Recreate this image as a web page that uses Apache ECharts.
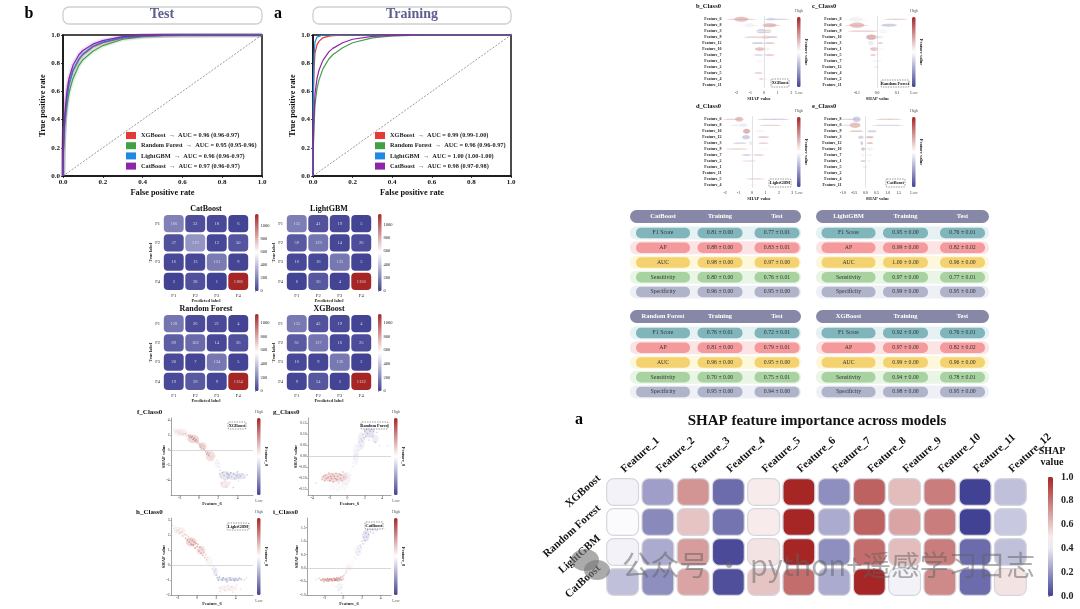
<!DOCTYPE html>
<html><head><meta charset="utf-8">
<script src="https://cdn.jsdelivr.net/npm/echarts@6/dist/echarts.min.js"></script>
<style>html,body{margin:0;padding:0;background:#fff}#c{width:1080px;height:609px}</style></head>
<body><div id="c"></div>
<script>
// ---------- ROC ----------
const rocFpr=[0,.002,.005,.01,.02,.03,.05,.08,.1,.15,.2,.3,.4,.5,.6,.8,1];
const rocModels=['XGBoost','Random Forest','LightGBM','CatBoost'];
const rocTestXGB=[0,.18,.3,.42,.56,.65,.745,.825,.86,.915,.945,.98,.992,.997,.999,1,1];
const rocTestRF=[0,.14,.26,.38,.5,.59,.69,.785,.825,.885,.925,.97,.988,.995,.998,1,1];
const rocTestLGB=[0,.17,.3,.42,.56,.65,.75,.83,.865,.92,.95,.982,.994,.998,1,1,1];
const rocTestCat=[0,.2,.32,.45,.6,.69,.785,.86,.89,.935,.96,.988,.996,.999,1,1,1];
const rocTrainXGB=[0,.5,.75,.87,.93,.955,.98,.992,.996,.999,1,1,1,1,1,1,1];
const rocTrainRF=[0,.2,.35,.5,.62,.68,.76,.83,.86,.91,.945,.98,.993,.998,1,1,1];
const rocTrainLGB=[0,.62,.85,.95,.985,.995,1,1,1,1,1,1,1,1,1,1,1];
const rocTrainCat=[0,.25,.42,.58,.69,.75,.82,.88,.905,.945,.97,.99,.996,.999,1,1,1];
const rocTestAuc=['0.96 (0.96-0.97)','0.95 (0.95-0.96)','0.96 (0.96-0.97)','0.97 (0.96-0.97)'];
const rocTrainAuc=['0.99 (0.99-1.00)','0.96 (0.96-0.97)','1.00 (1.00-1.00)','0.98 (0.97-0.98)'];
// ---------- confusion matrices ----------
const cmLabels=['F1','F2','F3','F4'];
const cmCat=[[166,32,18,6],[37,219,12,50],[16,13,151,9],[2,38,1,1186]];
const cmLgb=[[155,41,19,5],[59,129,14,26],[16,16,135,5],[6,56,4,1156]];
const cmRf=[[128,26,21,4],[69,102,14,36],[20,7,134,5],[19,59,9,1134]];
const cmXgb=[[135,42,19,4],[61,127,16,25],[16,9,136,2],[9,54,5,1132]];
// ---------- SHAP dependence: [Feature value, SHAP value, colour 0..1] ----------
const depF=[[-2.6,2.7,.6],[-2.5,2.95,.55],[-2.4,2.5,.6],[-2.3,3.4,.5],[-2.2,2.6,.6],[-2.1,2.3,.62],[-2,2.5,.58],[-1.9,2.2,.65],[-1.7,2.4,.6],[-1.6,2.1,.66],[-1.4,2.2,.7],[-1.3,1.9,.66],[-1.1,2,.75],[-1,1.8,.78],[-.9,2,.72],[-.8,1.7,.82],[-.7,1.85,.8],[-.6,1.45,.85],[-.5,1.6,.84],[-.4,1.25,.82],[-.3,1.4,.8],[-.2,1,.75],[-.1,1.2,.72],[0,.9,.7],[.1,.7,.74],[.15,.45,.76],[.25,.85,.7],[.3,.3,.68],[.4,.6,.7],[.5,.2,.72],[.55,.5,.68],[.7,-.2,.74],[.8,-.5,.78],[.9,-.3,.76],[1,-.7,.8],[1.1,-.45,.72],[1.2,-.9,.66],[1.3,-1.2,.6],[1.4,-.8,.62],[1.5,-1.5,.5],[1.6,-1.2,.5],[1.7,-1.7,.46],[1.8,-1.4,.45],[1.9,-2,.45],[2,-1.75,.42],[2.1,-2.3,.4],[2.15,-3.2,.3],[2.2,-2.7,.38],[2.3,-3.6,.6],[2.35,-4.4,.66],[2.45,-3,.25],[2.6,-3.4,.3],[2.7,-4,.62],[2.8,-4.9,.64],[2.9,-3.1,.2],[3,-3.7,.28],[3.1,-3.3,.25],[3.2,-4.3,.62],[3.3,-3,.22],[3.4,-3.6,.3],[3.55,-5,.66],[3.6,-3.2,.25],[3.7,-3.8,.3],[3.9,-3.4,.3],[4,-2.9,.28],[4.1,-4.1,.6],[4.3,-3.5,.3],[4.5,-3.2,.3],[4.7,-3.7,.35],[5,-3.3,.35]];
const depG=[[-3.6,-.12,.62],[-3.1,-.08,.55],[-2.9,-.105,.7],[-2.7,-.09,.72],[-2.6,-.11,.75],[-2.5,-.085,.72],[-2.4,-.1,.78],[-2.3,-.13,.5],[-2.2,-.095,.8],[-2.1,-.075,.74],[-2,-.11,.78],[-2,-.15,.46],[-1.9,-.09,.8],[-1.8,-.1,.82],[-1.7,-.08,.74],[-1.6,-.115,.76],[-1.6,-.14,.48],[-1.5,-.09,.8],[-1.4,-.1,.78],[-1.3,-.075,.72],[-1.2,-.105,.8],[-1.2,-.155,.45],[-1.1,-.09,.74],[-1,-.12,.62],[-.9,-.08,.74],[-.9,-.145,.48],[-.8,-.1,.76],[-.7,-.085,.72],[-.6,-.11,.7],[-.6,-.135,.46],[-.5,-.07,.68],[-.4,-.095,.7],[-.3,-.15,.45],[-.2,-.08,.66],[-.1,-.12,.48],[0,-.09,.6],[.1,-.075,.56],[.2,-.11,.45],[.3,-.06,.5],[.4,-.085,.45],[.5,-.06,.45],[.6,-.03,.45],[.7,-.045,.42],[.8,-.01,.42],[.9,.005,.4],[1,.025,.42],[1.1,.01,.38],[1.2,.045,.4],[1.3,.03,.36],[1.4,.065,.38],[1.5,.05,.34],[1.6,.08,.35],[1.7,.07,.32],[1.8,.1,.32],[1.9,.085,.3],[2,.115,.28],[2.1,.09,.3],[2.2,.125,.25],[2.3,.105,.3],[2.4,.13,.22],[2.5,.075,.35],[2.6,.115,.28],[2.8,.125,.25],[2.9,.09,.32],[3,.115,.3],[3.2,.065,.35],[3.4,.11,.34],[3.6,.13,.36],[3.7,.05,.4],[4.6,.05,.6]];
const depH=[[-2.5,2.65,.62],[-2.4,2.45,.6],[-2.2,2.55,.58],[-2.1,2.3,.62],[-1.9,2.35,.6],[-1.8,2.15,.66],[-1.6,2.2,.62],[-1.5,1.95,.7],[-1.3,2.05,.68],[-1.2,1.8,.74],[-1.1,2,.64],[-1,1.7,.78],[-.9,1.9,.66],[-.8,1.55,.8],[-.7,1.75,.72],[-.6,1.4,.82],[-.5,1.65,.78],[-.4,1.35,.84],[-.3,1.55,.8],[-.2,1.15,.82],[-.1,1.45,.78],[0,1.25,.8],[.1,1.4,.72],[.2,.95,.76],[.3,1.2,.76],[.4,.8,.74],[.5,1.05,.72],[.6,.65,.72],[.7,.85,.68],[.8,.5,.7],[.9,.7,.64],[1,.35,.66],[1.1,.5,.6],[1.2,.15,.55],[1.3,.35,.52],[1.4,-.05,.45],[1.5,.1,.45],[1.6,-.25,.38],[1.7,-.1,.4],[1.8,-.45,.35],[1.9,-.3,.36],[2,-.65,.28],[2.1,-.85,.25],[2.2,-1,.22],[2.3,-.8,.2],[2.35,-1.5,.6],[2.4,-1.75,.62],[2.6,-1,.22],[2.7,-.85,.2],[2.8,-1.45,.58],[2.9,-1.7,.62],[3,-.95,.22],[3.1,-1.1,.2],[3.2,-1.35,.58],[3.3,-1.6,.6],[3.4,-.85,.25],[3.5,-1,.2],[3.6,-1.45,.62],[3.7,-1.8,.6],[3.8,-.95,.25],[3.9,-1.05,.22],[4,-.9,.28],[4.1,-1.35,.6],[4.2,-1,.25],[4.4,-.85,.3],[4.6,-.95,.3],[4.9,-1,.35],[5.1,-.85,.4],[4.5,-1.6,.6]];
const depI=[[-2.9,-.42,.6],[-2.6,-.38,.66],[-2.4,-.45,.72],[-2.2,-.4,.76],[-2.1,-.5,.7],[-2,-.42,.8],[-1.8,-.46,.82],[-1.7,-.39,.82],[-1.6,-.48,.78],[-1.5,-.42,.85],[-1.4,-.53,.5],[-1.3,-.4,.85],[-1.2,-.46,.84],[-1.1,-.6,.46],[-1,-.38,.84],[-.9,-.45,.86],[-.9,-.7,.45],[-.8,-.42,.82],[-.7,-.36,.8],[-.7,-.62,.48],[-.6,-.47,.78],[-.5,-.38,.8],[-.5,-.82,.4],[-.4,-.42,.76],[-.4,-.58,.45],[-.3,-.34,.78],[-.3,-.72,.42],[-.2,-.44,.7],[-.2,-.92,.36],[-.1,-.32,.72],[-.1,-.6,.45],[0,-.4,.66],[.05,-.28,.68],[.1,-.5,.5],[.2,-.2,.62],[.3,-.1,.62],[.4,-.15,.58],[.5,0,.6],[.6,.08,.55],[.7,-.03,.55],[.8,.18,.52],[.9,.1,.5],[1,.3,.48],[1.1,.22,.46],[1.2,.42,.45],[1.3,.35,.44],[1.4,.58,.42],[1.5,.48,.42],[1.6,.72,.4],[1.7,.62,.38],[1.8,.85,.36],[1.9,.78,.34],[2,1,.32],[2.1,.9,.32],[2.2,1.15,.3],[2.3,1.02,.28],[2.4,1.3,.25],[2.5,1.15,.3],[2.6,1.42,.22],[2.7,1.25,.26],[2.8,1.55,.2],[2.9,1.35,.28],[3,1.62,.2],[3.1,1.45,.26],[3.2,1.3,.32],[3.4,1.55,.3],[3.6,1.4,.36],[3.8,1.6,.34],[4.1,1.5,.4],[4.4,1.45,.45]];
// density of the dependence clouds: [x, y, half width, half height, colour]
const cloudF=[[-1.9,2.4,.7,.5,.62],[-.6,1.5,.6,.55,.8],[.4,.5,.4,.55,.74],[1.2,-.8,.5,.7,.72],[1.9,-1.8,.3,.6,.45],[2.7,-3.4,.6,.6,.3],[3.6,-3.5,.8,.5,.32],[2.7,-4.6,.5,.5,.66],[4.3,-3.5,.6,.4,.32]];
const cloudG=[[-1.5,-.095,1.5,.02,.78],[-1,-.135,1.2,.02,.46],[-.2,-.1,.6,.03,.6],[1,.01,.35,.05,.42],[1.6,.07,.4,.04,.35],[2.5,.11,.6,.025,.26],[3.2,.08,.4,.02,.36]];
const cloudH=[[-1.8,2.3,.6,.25,.62],[-.6,1.55,.55,.3,.8],[.4,1,.45,.3,.74],[1.2,.3,.4,.3,.55],[1.9,-.45,.25,.3,.35],[3.4,-.95,1.3,.12,.22],[3.2,-1.55,1,.2,.6]];
const cloudI=[[-1.5,-.44,1,.06,.85],[-.5,-.42,.5,.07,.8],[-.4,-.7,.35,.14,.42],[.6,.02,.4,.15,.56],[1.6,.65,.4,.2,.4],[2.4,1.2,.4,.22,.28],[3.2,1.5,.6,.12,.3]];
// ---------- SHAP summary: [row, SHAP centre, half width, half height in rows, colour 0..1] ----------
const beeFeatB=['Feature_6','Feature_8','Feature_3','Feature_9','Feature_12','Feature_10','Feature_7','Feature_1','Feature_2','Feature_5','Feature_4','Feature_11'];
const beeFeatC=['Feature_8','Feature_6','Feature_9','Feature_10','Feature_3','Feature_1','Feature_5','Feature_7','Feature_12','Feature_4','Feature_2','Feature_11'];
const beeFeatD=['Feature_6','Feature_8','Feature_10','Feature_12','Feature_3','Feature_9','Feature_7','Feature_2','Feature_1','Feature_11','Feature_5','Feature_4'];
const beeFeatE=['Feature_8','Feature_6','Feature_9','Feature_3','Feature_12','Feature_10','Feature_7','Feature_1','Feature_5','Feature_2','Feature_4','Feature_11'];
const beeB=[[0,-1.65,1.1,.1,.72],[0,-1.66,.5,.42,.72],[0,.95,.95,.1,.28],[0,.5,.35,.25,.36],[1,-1,.7,.1,.45],[1,-1.05,.36,.4,.46],[1,.4,.5,.34,.74],[1,.75,.45,.1,.7],[2,-.2,.36,.36,.3],[2,.25,.3,.3,.68],[2,0,1,.08,.5],[3,-.6,.85,.1,.7],[3,.1,.3,.3,.62],[3,.6,.4,.14,.3],[4,-.45,.45,.16,.3],[4,.4,.4,.14,.7],[5,-.3,.36,.3,.72],[5,.2,.25,.22,.45],[6,-.4,.36,.12,.32],[6,.4,.4,.12,.72],[7,-.35,.36,.1,.45],[7,.1,.15,.26,.5],[8,-.1,.42,.16,.5],[9,-.4,.32,.12,.7],[9,.12,.12,.2,.5],[10,-.2,.18,.12,.68],[10,.1,.14,.12,.45],[11,-.05,.28,.14,.5]];
const beeC=[[0,-.105,.06,.08,.45],[0,-.105,.03,.42,.45],[0,.095,.06,.1,.7],[1,-.1,.06,.1,.72],[1,-.1,.035,.44,.72],[1,.06,.04,.25,.3],[2,-.07,.075,.1,.7],[2,.03,.02,.3,.45],[2,.05,.05,.08,.5],[3,-.028,.026,.44,.78],[3,.01,.02,.2,.42],[4,-.03,.014,.34,.42],[4,.017,.012,.14,.7],[5,-.015,.02,.3,.72],[5,.01,.025,.1,.45],[6,-.02,.016,.14,.7],[6,.005,.006,.2,.48],[7,0,.025,.16,.46],[8,-.003,.016,.22,.46],[9,0,.009,.14,.5],[10,0,.009,.14,.48],[11,0,.004,.14,.5]];
const beeD=[[0,-1.4,.75,.08,.72],[0,-.94,.3,.42,.72],[0,1.6,1.2,.1,.26],[1,-1,.6,.1,.4],[1,-.64,.3,.38,.44],[1,1.4,.85,.1,.7],[2,-.4,.26,.42,.78],[2,.6,.38,.18,.46],[3,-.44,.3,.36,.3],[3,.85,.44,.14,.7],[4,-.9,.5,.1,.3],[4,-.1,.12,.3,.42],[4,.85,.38,.12,.7],[5,-1.1,.85,.1,.7],[5,.85,.44,.12,.48],[6,-.4,.38,.14,.3],[6,.5,.44,.12,.68],[7,-.2,.52,.16,.58],[8,.25,.68,.14,.5],[9,0,.44,.2,.5],[10,.25,.68,.14,.62],[11,0,.44,.16,.52]];
const beeE=[[0,-.7,.45,.1,.3],[0,-.39,.18,.46,.3],[0,1.05,.6,.1,.72],[1,-.46,.24,.44,.72],[1,-.7,.45,.1,.66],[1,1,.7,.1,.3],[2,-.4,.3,.1,.76],[2,.3,.22,.18,.32],[3,-.2,.13,.26,.32],[3,.2,.18,.16,.74],[4,-.16,.06,.3,.3],[4,.2,.15,.14,.72],[5,-.1,.09,.26,.72],[5,.18,.18,.26,.45],[6,-.12,.08,.22,.45],[6,.2,.15,.12,.55],[7,-.1,.13,.14,.7],[7,.16,.08,.22,.45],[8,0,.13,.16,.55],[9,0,.08,.2,.5],[10,0,.05,.14,.5],[11,0,.03,.12,.5]];
// ---------- metric tables ----------
const metricNames=['F1 Score','AP','AUC','Sensitivity','Specificity'];
const tblCat=[['0.81 ± 0.00','0.77 ± 0.01'],['0.88 ± 0.00','0.83 ± 0.01'],['0.98 ± 0.00','0.97 ± 0.00'],['0.80 ± 0.00','0.76 ± 0.01'],['0.96 ± 0.00','0.95 ± 0.00']];
const tblRf=[['0.76 ± 0.01','0.72 ± 0.01'],['0.81 ± 0.00','0.79 ± 0.01'],['0.96 ± 0.00','0.95 ± 0.00'],['0.70 ± 0.00','0.75 ± 0.01'],['0.95 ± 0.00','0.94 ± 0.00']];
const tblLgb=[['0.95 ± 0.00','0.76 ± 0.01'],['0.99 ± 0.00','0.82 ± 0.02'],['1.00 ± 0.00','0.96 ± 0.00'],['0.97 ± 0.00','0.77 ± 0.01'],['0.99 ± 0.00','0.95 ± 0.00']];
const tblXgb=[['0.92 ± 0.00','0.76 ± 0.01'],['0.97 ± 0.00','0.82 ± 0.02'],['0.99 ± 0.00','0.96 ± 0.00'],['0.94 ± 0.00','0.78 ± 0.01'],['0.98 ± 0.00','0.95 ± 0.00']];
// ---------- SHAP heatmap ----------
const heatFeatures=['Feature_1','Feature_2','Feature_3','Feature_4','Feature_5','Feature_6','Feature_7','Feature_8','Feature_9','Feature_10','Feature_11','Feature_12'];
const heatModels=['XGBoost','Random Forest','LightGBM','CatBoost'];
const heatXgb=[.42,.22,.72,.1,.5,1,.18,.85,.62,.78,0,.3];
const heatRf=[.44,.17,.6,.12,.5,1,.25,.85,.68,.78,0,.32];
const heatLgb=[.42,.25,.7,.02,.52,1,.18,.82,.62,.78,.1,.3];
const heatCat=[.3,.18,.68,.03,.6,.82,.25,1,.42,.75,.1,.52];

// ---------- style ----------
const SERIF='"Liberation Serif","Times New Roman",serif';
const rocColors=['#e53935','#43a047','#1e88e5','#8e24aa'];
const LOW=[66,66,148],MID=[255,255,255],HIGH=[166,38,38];
function cmap(v,m){m=m==null?.5:m;v=Math.max(0,Math.min(1,v));
  const a=v<m?LOW:MID,b=v<m?MID:HIGH,t=v<m?v/m:(v-m)/(1-m);
  return 'rgb('+a.map((c,i)=>Math.round(c+(b[i]-c)*t)).join(',')+')';}
const grid=[],xAxis=[],yAxis=[],series=[],graphic=[],legend=[];
function addGrid(l,t,w,h,xa,ya){grid.push({left:l,top:t,width:w,height:h,show:false});
  const i=grid.length-1;xAxis.push(Object.assign({gridIndex:i},xa));yAxis.push(Object.assign({gridIndex:i},ya));return i;}
const hidden={type:'value',show:false,min:0,max:1};
function txt(text,x,y,size,opt){opt=opt||{};graphic.push({type:'text',x:x,y:y,rotation:opt.rot||0,silent:true,z:opt.z||50,style:{text:text,font:(opt.weight||'bold')+' '+size+'px '+SERIF,fill:opt.fill||'#111',align:opt.align||'center',verticalAlign:'middle'}});}
function colorbar(l,t,w,h,max,ticks,mid,fs){
  const big=fs>6;
  const i=addGrid(l,t,w,h,hidden,{type:'value',position:'right',min:0,max:max,axisLine:{show:false},splitLine:{show:false},
    axisTick:{show:!!ticks,length:big?2:1,lineStyle:{color:'#555',width:.5},customValues:ticks||[]},
    axisLabel:{show:!!ticks,margin:big?8:2,fontFamily:SERIF,fontWeight:big?'bold':'normal',fontSize:fs||4.5,color:'#222',customValues:ticks||[],formatter:v=>max===1?v.toFixed(1):String(v)}});
  series.push({type:'custom',xAxisIndex:i,yAxisIndex:i,silent:true,data:[[0,0]],renderItem:(p,api)=>{
    const g=[];for(let k=0;k<=10;k++){const s=k/10;g.push({offset:s,color:cmap(1-s,mid)});}
    return {type:'rect',shape:{x:l,y:t,width:w,height:h,r:1.5},style:{fill:new echarts.graphic.LinearGradient(0,0,0,1,g)}};}});
}
// ROC panels
function roc(l,t,w,h,curves,auc,legL,title,titleCx,letter,letterX){
  const axis=(nm,gap)=>({type:'value',min:0,max:1,interval:.2,name:nm,nameLocation:'middle',nameGap:gap,nameMoveOverlap:false,nameTextStyle:{fontFamily:SERIF,fontWeight:'bold',fontSize:8.3,color:'#111'},
     axisLine:{onZero:false,lineStyle:{color:'#111',width:1.5}},axisTick:{length:2,lineStyle:{color:'#111',width:.8}},axisLabel:{margin:3,fontFamily:SERIF,fontWeight:'bold',fontSize:7,color:'#111',formatter:v=>v.toFixed(1)},splitLine:{show:false}});
  const i=addGrid(l,t,w,h,axis('False positive rate',13),axis('True positive rate',16));
  grid[i].show=true;grid[i].borderColor='#111';grid[i].borderWidth=1.5;
  series.push({type:'line',name:'chance',xAxisIndex:i,yAxisIndex:i,data:[[0,0],[1,1]],symbol:'none',silent:true,lineStyle:{color:'#555',width:.6,type:[2,1.5]}});
  const names=[];
  curves.forEach((c,k)=>{const pts=rocFpr.map((f,j)=>[f,c[j]]);
    const nm=rocModels[k]+'  →  AUC = '+auc[k];names.push(nm);
    if(title==='Test')series.push({type:'line',name:'band'+k,xAxisIndex:i,yAxisIndex:i,data:pts,symbol:'none',silent:true,lineStyle:{color:rocColors[k],width:4.5,opacity:.14}});
    series.push({type:'line',name:nm,xAxisIndex:i,yAxisIndex:i,data:pts,symbol:'none',silent:true,itemStyle:{color:rocColors[k]},lineStyle:{color:rocColors[k],width:1.2}});});
  legend.push({data:names,left:legL,top:132,orient:'vertical',icon:'rect',itemWidth:10,itemHeight:7,itemGap:3.2,selectedMode:false,padding:0,textStyle:{fontFamily:SERIF,fontWeight:'bold',fontSize:6.3,color:'#222'}});
  graphic.push({type:'rect',shape:{x:l,y:7,width:w,height:17,r:6},silent:true,style:{fill:'#fff',stroke:'#cfcfcf',lineWidth:1.3}});
  txt(title,titleCx,14.5,14,{fill:'#5f5f8e'});txt(letter,letterX,14,16,{fill:'#000'});
}
roc(63,35,199,141,[rocTestXGB,rocTestRF,rocTestLGB,rocTestCat],rocTestAuc,126,'Test',162,'b',29);
roc(313,35,198,141,[rocTrainXGB,rocTrainRF,rocTrainLGB,rocTrainCat],rocTrainAuc,375,'Training',412,'a',278);
// Confusion matrices
function cm(l,t,vals,title,ticks,max,cbL){
  const i=addGrid(l,t,86,77,
    {type:'category',data:cmLabels,name:'Predicted label',nameLocation:'middle',nameGap:7,nameMoveOverlap:false,nameTextStyle:{fontFamily:SERIF,fontWeight:'bold',fontSize:4.5,color:'#222'},axisLine:{show:false},axisTick:{show:false},axisLabel:{margin:2,fontFamily:SERIF,fontSize:4.5,color:'#222'}},
    {type:'category',inverse:true,data:cmLabels,name:'True label',nameLocation:'middle',nameGap:10,nameMoveOverlap:false,nameTextStyle:{fontFamily:SERIF,fontWeight:'bold',fontSize:4.5,color:'#222'},axisLine:{show:false},axisTick:{show:false},axisLabel:{margin:3,fontFamily:SERIF,fontSize:4.5,color:'#222'}});
  const data=[];vals.forEach((r,y)=>r.forEach((v,x)=>data.push([x,y,v])));
  series.push({type:'custom',xAxisIndex:i,yAxisIndex:i,silent:true,data:data,renderItem:(p,api)=>{
    const c=api.coord([api.value(0),api.value(1)]),s=api.size([1,1]),w=s[0]-1.6,h=s[1]-2,v=api.value(2);
    return {type:'group',children:[{type:'rect',shape:{x:c[0]-w/2,y:c[1]-h/2,width:w,height:h,r:4},style:{fill:cmap(v/max,.42)}},
      {type:'text',style:{text:String(v),x:c[0],y:c[1],align:'center',verticalAlign:'middle',font:'4.5px '+SERIF,fill:'#d8d8ec'}}]};}});
  colorbar(cbL,t,3.5,77,max,ticks,.5,4.5);
  txt(title,l+43,t-5,8);
}
const cbTicks=[0,200,400,600,800,1000];
cm(163,214,cmCat,'CatBoost',cbTicks,1186,255);
cm(286,214,cmLgb,'LightGBM',cbTicks,1156,378);
cm(163,314,cmRf,'Random Forest',cbTicks,1134,255);
cm(286,314,cmXgb,'XGBoost',cbTicks,1132,378);
// generic box
function dashBox(text,x0,y0,x1,y1){graphic.push({type:'rect',shape:{x:x0,y:y0,width:x1-x0,height:y1-y0,r:1},z:40,silent:true,style:{fill:'rgba(255,255,255,.85)',stroke:'#333',lineWidth:.5,lineDash:[1.5,1]}});
  txt(text,(x0+x1)/2,(y0+y1)/2,4.3,{z:41});}
// Dependence plots
function dep(l,t,w,h,pts,cloud,xr,yr,xt,yt,yFmt,yGap,title,titleX,box,cbL){
  const axis=(mn,mx,tk,f,nm,gap)=>({type:'value',min:mn,max:mx,name:nm,nameLocation:'middle',nameGap:gap,nameMoveOverlap:false,nameTextStyle:{fontFamily:SERIF,fontWeight:'bold',fontSize:4.5,color:'#222'},
    axisLine:{onZero:false,lineStyle:{color:'#666',width:.6}},axisTick:{length:1.2,lineStyle:{color:'#666',width:.5},customValues:tk},axisLabel:{margin:1.5,fontFamily:SERIF,fontSize:3.6,color:'#222',customValues:tk,formatter:f},splitLine:{show:false}});
  const i=addGrid(l,t,w,h,axis(xr[0],xr[1],xt,v=>String(v),'Feature_6',6),axis(yr[0],yr[1],yt,yFmt,'SHAP value',yGap));
  series.push({type:'custom',xAxisIndex:i,yAxisIndex:i,silent:true,data:cloud,renderItem:(p,api)=>{
    const c=api.coord([api.value(0),api.value(1)]),s=api.size([api.value(2),api.value(3)]);
    return {type:'ellipse',shape:{cx:c[0],cy:c[1],rx:s[0],ry:s[1]},style:{fill:cmap(api.value(4)),opacity:.3}};}});
  series.push({type:'scatter',xAxisIndex:i,yAxisIndex:i,silent:true,data:pts,symbolSize:1.7,itemStyle:{color:p=>cmap(p.value[2]),opacity:.7},
    markLine:{silent:true,symbol:'none',label:{show:false},animation:false,lineStyle:{color:'#bdbdbd',width:.6,type:'solid'},data:[{yAxis:0}]}});
  colorbar(cbL,t,3.5,h,1,null,.5);
  txt('Feature_8',cbL+9,t+h/2,4.5,{rot:-Math.PI/2});
  txt('High',cbL+2,t-6,4,{fill:'#555',weight:'normal'});txt('Low',cbL+2,t+h+6,4,{fill:'#555',weight:'normal'});
  txt(title,titleX,t-6,7,{align:'left',weight:'bold'});
  dashBox(box[0],box[1],box[2],box[3],box[4]);
}
const f2=v=>v.toFixed(2),f1=v=>v.toFixed(1),f0=v=>String(v);
dep(171,418,82,77,depF,cloudF,[-2.9,5.6],[-6,4.3],[-2,0,2,4],[-4,-2,0,2,4],f0,5,'f_Class0',137,['XGBoost',228,422,246,429],257);
dep(308,418,83,77,depG,cloudG,[-4.5,5],[-.175,.175],[-4,-2,0,2,4],[-.15,-.1,-.05,0,.05,.1,.15],f2,10,'g_Class0',273,['Random Forest',361,422,388,429],394);
dep(171,518,82,77,depH,cloudH,[-2.7,5.8],[-2,3.15],[-2,0,2,4],[-2,-1,0,1,2,3],f0,5,'h_Class0',136,['LightGBM',227,523,249,530],257);
dep(307,518,84,77,depI,cloudI,[-3.9,5.1],[-1,1.86],[-2,0,2,4],[-1,-.5,0,.5,1,1.5],f1,8,'i_Class0',273,['CatBoost',365,522,383,529],394);
// Summary (beeswarm) plots
function bee(l,t,w,feat,pts,xr,xt,xf,title,titleX,box,cbL){
  const i=addGrid(l,t+16.3,w,71.6,
    {type:'value',min:xr[0],max:xr[1],offset:2,name:'SHAP value',nameLocation:'middle',nameGap:6,nameMoveOverlap:false,nameTextStyle:{fontFamily:SERIF,fontWeight:'bold',fontSize:4.5,color:'#222'},axisLine:{onZero:false,lineStyle:{color:'#666',width:.6}},axisTick:{length:1.2,lineStyle:{color:'#666',width:.5},customValues:xt},axisLabel:{margin:1.5,fontFamily:SERIF,fontSize:3.8,color:'#222',customValues:xt,formatter:xf},splitLine:{show:false}},
    {type:'category',inverse:true,data:feat,axisLine:{show:false},axisTick:{show:false},axisLabel:{margin:1.5,interval:0,fontFamily:SERIF,fontWeight:'bold',fontSize:4,color:'#222'}});
  series.push({type:'custom',xAxisIndex:i,yAxisIndex:i,silent:true,data:pts,renderItem:(p,api)=>{
    const c=api.coord([api.value(1),api.value(0)]),s=api.size([api.value(2),1]);
    return {type:'ellipse',shape:{cx:c[0],cy:c[1],rx:Math.max(s[0],.6),ry:Math.max(s[1]*api.value(3),.4)},style:{fill:cmap(api.value(4)),opacity:.62}};},
    markLine:{silent:true,symbol:'none',label:{show:false},animation:false,lineStyle:{color:'#c4c4c4',width:.5,type:'solid'},data:[{xAxis:0}]}});
  colorbar(cbL,t+17,3.5,70,1,null,.5);
  txt('Feature value',cbL+9,t+52,4.5,{rot:-Math.PI/2});
  txt('High',cbL+2,t+11,4,{fill:'#555',weight:'normal'});txt('Low',cbL+2,t+93,4,{fill:'#555',weight:'normal'});
  txt(title,titleX,t+6,6.5,{align:'left'});
  dashBox(box[0],box[1],t+box[2],box[3],t+box[4]);
}
bee(723,0,72,beeFeatB,beeB,[-2.99,2.26],[-2,-1,0,1,2],f0,'b_Class0',696,['XGBoost',771,79,789,87],797);
bee(843,0,69,beeFeatC,beeC,[-.17,.175],[-.1,0,.1],f1,'c_Class0',812,['Random Forest',881,80,909,87],912);
bee(723,100,72,beeFeatD,beeD,[-2.15,3.2],[-2,-1,0,1,2,3],f0,'d_Class0',696,['LightGBM',769,79,791,87],797);
bee(843,100,69,beeFeatE,beeE,[-1,2.09],[-1,-.5,0,.5,1,1.5],f1,'e_Class0',812,['CatBoost',886,79,905,87],912);
// Metric tables
const pillColors=['#7fb5bb','#f59a9c','#f5d270','#a8d2a0','#b0b4cb'];
const bandColors=['#e5f1f2','#fde4e4','#fdf7dc','#e9f5e5','#eef0f6'];
const colNames=['Metric','Training','Test'];
function table(cx,headTop,vals,name,bandL,bandR){
  const l=cx-85.5,t=headTop+15.6;
  const i=addGrid(l,t,171,73.75,{type:'category',show:false,data:colNames},{type:'category',show:false,inverse:true,data:metricNames});
  const data=[];metricNames.forEach((m,r)=>{data.push([0,r,m]);data.push([1,r,vals[r][0]]);data.push([2,r,vals[r][1]]);});
  const wid=[54,45,45];
  series.push({type:'custom',xAxisIndex:i,yAxisIndex:i,silent:true,data:data,renderItem:(p,api)=>{
    const k=p.dataIndex,col=k%3,row=Math.floor(k/3),c=api.coord([col,row]),w=wid[col],h=10.4;
    const ch=[];
    if(col===0)ch.push({type:'rect',z2:0,shape:{x:bandL,y:c[1]-6.6,width:bandR-bandL,height:13.2,r:6},style:{fill:bandColors[row]}});
    ch.push({type:'rect',z2:1,shape:{x:c[0]-w/2,y:c[1]-h/2,width:w,height:h,r:5},style:{fill:pillColors[row]}});
    ch.push({type:'text',z2:2,style:{text:data[k][2],x:c[0],y:c[1],align:'center',verticalAlign:'middle',font:'5.8px '+SERIF,fill:'#333'}});
    return {type:'group',children:ch};}});
  graphic.push({type:'rect',shape:{x:bandL,y:headTop,width:bandR-bandL,height:13,r:6.5},z:30,silent:true,style:{fill:'#8787a8'}});
  txt(name,cx-57,headTop+6.5,6.5,{fill:'#fff'});txt('Training',cx,headTop+6.5,6.5,{fill:'#fff'});txt('Test',cx+57,headTop+6.5,6.5,{fill:'#fff'});
}
table(720,210,tblCat,'CatBoost',630,801);
table(720,310,tblRf,'Random Forest',630,801);
table(905.5,210,tblLgb,'LightGBM',816,989);
table(905.5,310,tblXgb,'XGBoost',816,989);
// Heatmap
(function(){
  const i=addGrid(605,477,423,120,
    {type:'category',position:'top',data:heatFeatures,axisLine:{show:false},axisTick:{show:false},axisLabel:{show:false}},
    {type:'category',inverse:true,data:heatModels,axisLine:{show:false},axisTick:{show:false},axisLabel:{show:false}});
  const data=[];[heatXgb,heatRf,heatLgb,heatCat].forEach((r,y)=>r.forEach((v,x)=>data.push([x,y,v])));
  series.push({type:'custom',xAxisIndex:i,yAxisIndex:i,silent:true,data:data,renderItem:(p,api)=>{
    const c=api.coord([api.value(0),api.value(1)]),s=api.size([1,1]),w=s[0]-3.4,h=s[1]-3.2;
    return {type:'rect',shape:{x:c[0]-w/2,y:c[1]-h/2,width:w,height:h,r:7},style:{fill:cmap(api.value(2),.45),stroke:'#d6d6de',lineWidth:1.2}};}});
  const ANG=42*Math.PI/180,LF='bold 11px '+SERIF;
  series.push({type:'custom',xAxisIndex:i,yAxisIndex:i,silent:true,data:heatFeatures.map((f,k)=>[k,0]),renderItem:(p,api)=>{
    const c=api.coord([api.value(0),0]);
    return {type:'text',x:c[0],y:471,rotation:ANG,style:{text:heatFeatures[p.dataIndex],align:'left',verticalAlign:'middle',font:LF,fill:'#111'}};}});
  series.push({type:'custom',xAxisIndex:i,yAxisIndex:i,silent:true,data:heatModels.map((f,k)=>[0,k]),renderItem:(p,api)=>{
    const c=api.coord([0,api.value(1)]);
    return {type:'text',x:599,y:c[1]-15,rotation:ANG,style:{text:heatModels[p.dataIndex],align:'right',verticalAlign:'middle',font:LF,fill:'#111'}};}});
  colorbar(1048,477,5,119,1,[0,.2,.4,.6,.8,1],.45,10);
  txt('SHAP',1052,451,10);txt('value',1052,462,10);
  txt('SHAP feature importance across models',817,421,15);
  txt('a',579,420,16,{fill:'#000'});
  graphic.push({type:'ellipse',shape:{cx:585,cy:560,rx:14,ry:11},z:90,silent:true,style:{fill:'rgba(120,120,120,.62)'}});
  graphic.push({type:'ellipse',shape:{cx:597,cy:570,rx:13,ry:10},z:90,silent:true,style:{fill:'rgba(120,120,120,.62)'}});
  graphic.push({type:'text',x:622,y:565,z:90,silent:true,style:{text:'公众号 · python+遥感学习日志',font:'28.8px "Noto Sans CJK SC"',fill:'rgba(95,95,95,.5)',align:'left',verticalAlign:'middle'}});
})();
const chart=echarts.init(document.getElementById('c'),null,{renderer:'canvas'});
chart.setOption({animation:false,backgroundColor:'#fff',textStyle:{fontFamily:SERIF},grid:grid,xAxis:xAxis,yAxis:yAxis,legend:legend,series:series,graphic:graphic});
</script></body></html>
